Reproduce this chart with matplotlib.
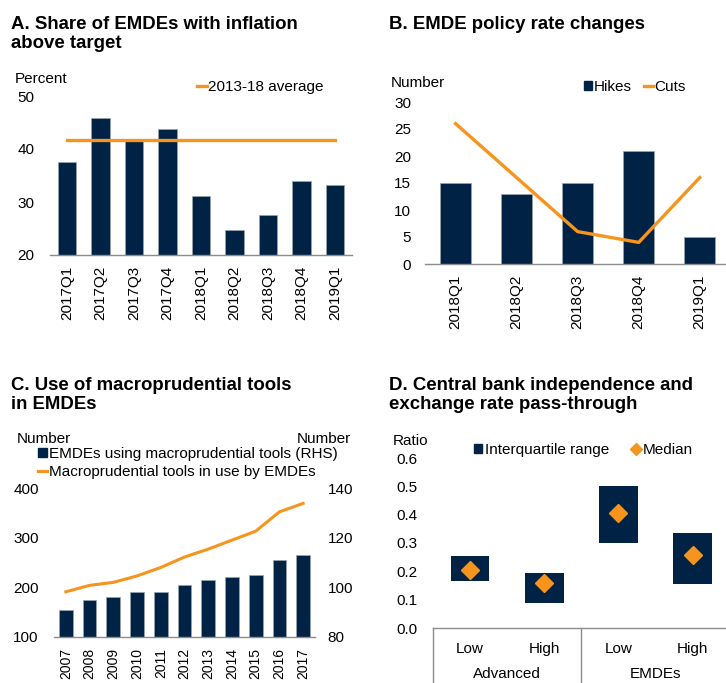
import matplotlib
matplotlib.use("Agg")
import matplotlib.pyplot as plt
from matplotlib.patches import Patch
from matplotlib.lines import Line2D

plt.rcParams['font.family'] = ['Liberation Sans', 'DejaVu Sans']
plt.rcParams['font.size'] = 11

NAVY = "#002345"
ORANGE = "#F7941D"
AXIS = "#8c8c8c"

# A. share of EMDEs with inflation above target
a_quarters = ["2017Q1", "2017Q2", "2017Q3", "2017Q4", "2018Q1",
              "2018Q2", "2018Q3", "2018Q4", "2019Q1"]
a_share = [37.5, 45.9, 41.7, 43.8, 31.2, 24.8, 27.5, 34.0, 33.3]
a_avg = 41.7

# B. policy rate changes
b_quarters = ["2018Q1", "2018Q2", "2018Q3", "2018Q4", "2019Q1"]
b_hikes = [15, 13, 15, 21, 5]
b_cuts = [26, 16, 6, 4, 16]

# C. macroprudential tools
c_years = ["2007", "2008", "2009", "2010", "2011", "2012",
           "2013", "2014", "2015", "2016", "2017"]
c_countries = [91, 95, 96, 98, 98, 101, 103, 104, 105, 111, 113]
c_tools = [191, 204, 210, 223, 240, 261, 277, 295, 313, 352, 369]

# D. pass-through by central bank independence
d_labels = ["Low", "High", "Low", "High"]
d_groups = ["Advanced", "EMDEs"]
d_q1 = [0.167, 0.087, 0.301, 0.155]
d_q3 = [0.255, 0.194, 0.501, 0.334]
d_median = [0.205, 0.158, 0.405, 0.257]

W, H = 726, 683
fig = plt.figure(figsize=(W / 100, H / 100), dpi=100)


def box(l, r, b, t):
    return [l / W, 1 - b / H, (r - l) / W, (b - t) / H]


def pt(x, y):
    return (x / W, 1 - y / H)


def style(ax, ypad, xpad, xsize=11):
    for s in ["top", "right", "left"]:
        ax.spines[s].set_visible(False)
    ax.spines["bottom"].set_color(AXIS)
    ax.spines["bottom"].set_linewidth(1)
    ax.tick_params(axis="y", length=0, pad=ypad, labelsize=11)
    ax.tick_params(axis="x", length=0, pad=xpad, labelsize=xsize)


title_kw = dict(fontsize=13.4, fontweight="bold", va="top", linespacing=1.12)
fig.text(*pt(11, 16), "A. Share of EMDEs with inflation\nabove target", **title_kw)
fig.text(*pt(389, 16), "B. EMDE policy rate changes", **title_kw)
fig.text(*pt(11, 377), "C. Use of macroprudential tools\nin EMDEs", **title_kw)
fig.text(*pt(389, 377), "D. Central bank independence and\nexchange rate pass-through",
         **title_kw)

# panel A
ax = fig.add_axes(box(50, 352, 255, 96))
xa = range(len(a_quarters))
ax.bar(xa, [v - 20 for v in a_share], bottom=20, width=0.55, color=NAVY,
       edgecolor="#9aa5b1", linewidth=0.5)
ax.plot([0, len(a_quarters) - 1], [a_avg, a_avg], color=ORANGE, lw=2.4,
        label="2013-18 average")
ax.set_xlim(-0.5, len(a_quarters) - 0.5)
ax.set_ylim(20, 50)
ax.set_yticks([20, 30, 40, 50])
ax.set_xticks(list(xa))
ax.set_xticklabels(a_quarters, rotation=90)
style(ax, 11, 8)
fig.text(*pt(15, 79), "Percent", fontsize=11, va="center")
fig.legend(handles=[Line2D([], [], color=ORANGE, lw=2.4)],
           labels=["2013-18 average"], loc="center left",
           bbox_to_anchor=pt(197, 87), frameon=False, borderpad=0,
           borderaxespad=0, handlelength=0.65, handletextpad=0.05, fontsize=11)

# panel B
ax = fig.add_axes(box(425, 726, 264, 102))
xb = range(len(b_quarters))
ax.bar(xb, b_hikes, width=0.5, color=NAVY, edgecolor="#9aa5b1", linewidth=0.5)
ax.plot(list(xb), b_cuts, color=ORANGE, lw=2.4)
ax.set_xlim(-0.5, 4.43)
ax.set_ylim(0, 30)
ax.set_yticks(range(0, 31, 5))
ax.set_xticks(list(xb))
ax.set_xticklabels(b_quarters, rotation=90)
style(ax, 10, 8)
fig.text(*pt(391, 83), "Number", fontsize=11, va="center")
fig.legend(handles=[Patch(color=NAVY), Line2D([], [], color=ORANGE, lw=2.4)],
           labels=["Hikes", "Cuts"], loc="center left", ncol=2,
           bbox_to_anchor=pt(584, 87), frameon=False, borderpad=0,
           borderaxespad=0, handlelength=0.55, handleheight=0.55,
           handletextpad=0.1, columnspacing=0.8, fontsize=11)

# panel C
ax = fig.add_axes(box(54, 315, 637, 488))
ax2 = ax.twinx()
xc = range(len(c_years))
ax2.bar(xc, [v - 80 for v in c_countries], bottom=80, width=0.58, color=NAVY,
        edgecolor="#9aa5b1", linewidth=0.5)
ax.plot(list(xc), c_tools, color=ORANGE, lw=2.2)
ax.set_zorder(ax2.get_zorder() + 1)
ax.patch.set_visible(False)
ax.set_xlim(-0.5, len(c_years) - 0.5)
ax.set_ylim(100, 400)
ax.set_yticks([100, 200, 300, 400])
ax2.set_ylim(80, 140)
ax2.set_yticks([80, 100, 120, 140])
ax.set_xticks(list(xc))
ax.set_xticklabels(c_years, rotation=90)
style(ax, 11, 8, xsize=10)
style(ax2, 9, 8, xsize=10)
ax2.spines["bottom"].set_visible(False)
fig.text(*pt(17, 439), "Number", fontsize=11, va="center")
fig.text(*pt(351, 439), "Number", fontsize=11, va="center", ha="right")
fig.legend(handles=[Patch(color=NAVY), Line2D([], [], color=ORANGE, lw=2.2)],
           labels=["EMDEs using macroprudential tools (RHS)",
                   "Macroprudential tools in use by EMDEs"],
           loc="upper left", bbox_to_anchor=pt(38, 447), frameon=False,
           borderpad=0, borderaxespad=0, handlelength=0.6, handleheight=0.6,
           handletextpad=0.1, labelspacing=0.25, fontsize=11)

# panel D
ax = fig.add_axes(box(433, 726, 628, 458))
xd = range(len(d_labels))
ax.bar(xd, [h - l for l, h in zip(d_q1, d_q3)], bottom=d_q1, width=0.52,
       color=NAVY)
ax.plot(list(xd), d_median, "D", color=ORANGE, markersize=9, ls="none")
ax.set_xlim(-0.5, 3.45)
ax.set_ylim(0, 0.6)
ticks = [0, 0.1, 0.2, 0.3, 0.4, 0.5, 0.6]
ax.set_yticks(ticks)
ax.set_yticklabels([f"{v:.1f}" for v in ticks])
ax.set_xticks(list(xd))
ax.set_xticklabels(d_labels)
style(ax, 11, 10)
tr = ax.get_xaxis_transform()
for xs in [-0.5, 1.5, 3.5]:
    ax.plot([xs, xs], [0, -0.35], color=AXIS, lw=1, transform=tr,
            clip_on=False)
for i, g in enumerate(d_groups):
    ax.text(2 * i + 0.5, -0.268, g, transform=tr, ha="center", va="center",
            fontsize=11)
fig.text(*pt(393, 441), "Ratio", fontsize=11, va="center")
fig.legend(handles=[Patch(color=NAVY),
                    Line2D([], [], marker="D", color=ORANGE, ls="none",
                           markersize=6)],
           labels=["Interquartile range", "Median"], loc="center left",
           ncol=2, bbox_to_anchor=pt(474, 450), frameon=False, borderpad=0,
           borderaxespad=0, handlelength=0.5, handleheight=0.5,
           handletextpad=0.2, columnspacing=1.5, fontsize=11)

fig.savefig("out.png", dpi=100)
